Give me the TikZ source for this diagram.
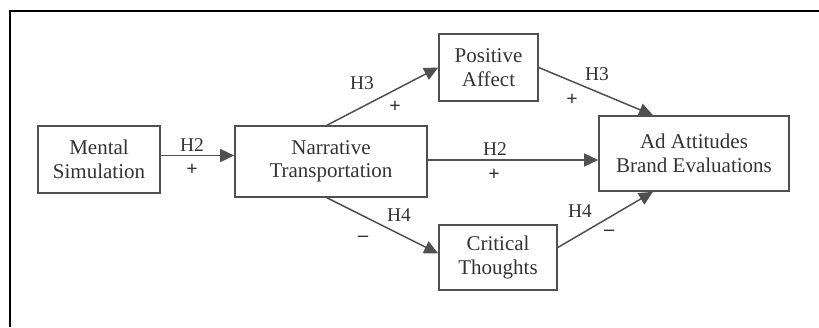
\documentclass[tikz,border=0pt]{standalone}
\usepackage{fontspec}
\setmainfont{Liberation Serif}
\usetikzlibrary{arrows.meta}
\definecolor{inkgray}{HTML}{333333}
\definecolor{linegray}{HTML}{505050}

\begin{document}
\begin{tikzpicture}[x=1pt, y=-1pt,
  box/.style={draw=linegray, line width=1.6pt, text=inkgray, align=center,
    inner sep=0pt, font=\fontsize{21}{23.5}\selectfont},
  lbl/.style={text=inkgray, inner sep=0pt, font=\fontsize{19.5}{22}\selectfont},
  sgn/.style={lbl, font=\fontsize{20}{22}\selectfont\bfseries},
  link/.style={draw=linegray, line width=1.5pt, -{Triangle[length=14pt, width=13pt]}}]
\useasboundingbox[fill=white] (0,0) rectangle (819,327);
\draw[black, line width=2pt] (9.5,327) -- (9.5,11) -- (819,11);
% boxes
\node[box, minimum width=122pt, minimum height=67pt] (ms) at (99,159.5) {Mental\\Simulation};
\node[box, minimum width=192pt, minimum height=71pt] (nt) at (331,161.5) {Narrative\\Transportation};
\node[box, minimum width=99pt, minimum height=67pt] (pa) at (488.5,67.5) {Positive\\Affect};
\node[box, minimum width=118pt, minimum height=65pt] (ct) at (498,257.5) {Critical\\Thoughts};
\node[box, minimum width=190pt, minimum height=75pt] (aa) at (694,153.5) {Ad Attitudes\\Brand Evaluations};
% arrows
\draw[link] ([yshift=4pt]ms.east) -- ([yshift=4pt]ms.east -| nt.west);
\draw[link] ([xshift=-4pt]nt.north) -- (pa.west);
\draw[link] ([xshift=-4pt]nt.south) -- ([yshift=4pt]ct.west);
\draw[link] ([yshift=1.5pt]nt.east) -- ([yshift=1.5pt]nt.east -| aa.west);
\draw[link] (pa.east) -- ([xshift=-41pt]aa.north);
\draw[link] ([yshift=10pt]ct.east) -- ([xshift=-41pt]aa.south);
% labels
\node[lbl] (h2a) at (192,145) {H2};
\node[sgn] (p2a) at (192,170) {+};
\node[lbl] (h3a) at (362,83) {H3};
\node[sgn] (p3a) at (395,107) {+};
\node[lbl] (h4a) at (399,215) {H4};
\node[sgn] (m4a) at (363,239) {--};
\node[lbl] (h2b) at (495,149) {H2};
\node[sgn] (p2b) at (494,175) {+};
\node[lbl] (h3b) at (597,74) {H3};
\node[sgn] (p3b) at (572,100) {+};
\node[lbl] (h4b) at (580,211) {H4};
\node[sgn] (m4b) at (609,233) {--};
\end{tikzpicture}
\end{document}
